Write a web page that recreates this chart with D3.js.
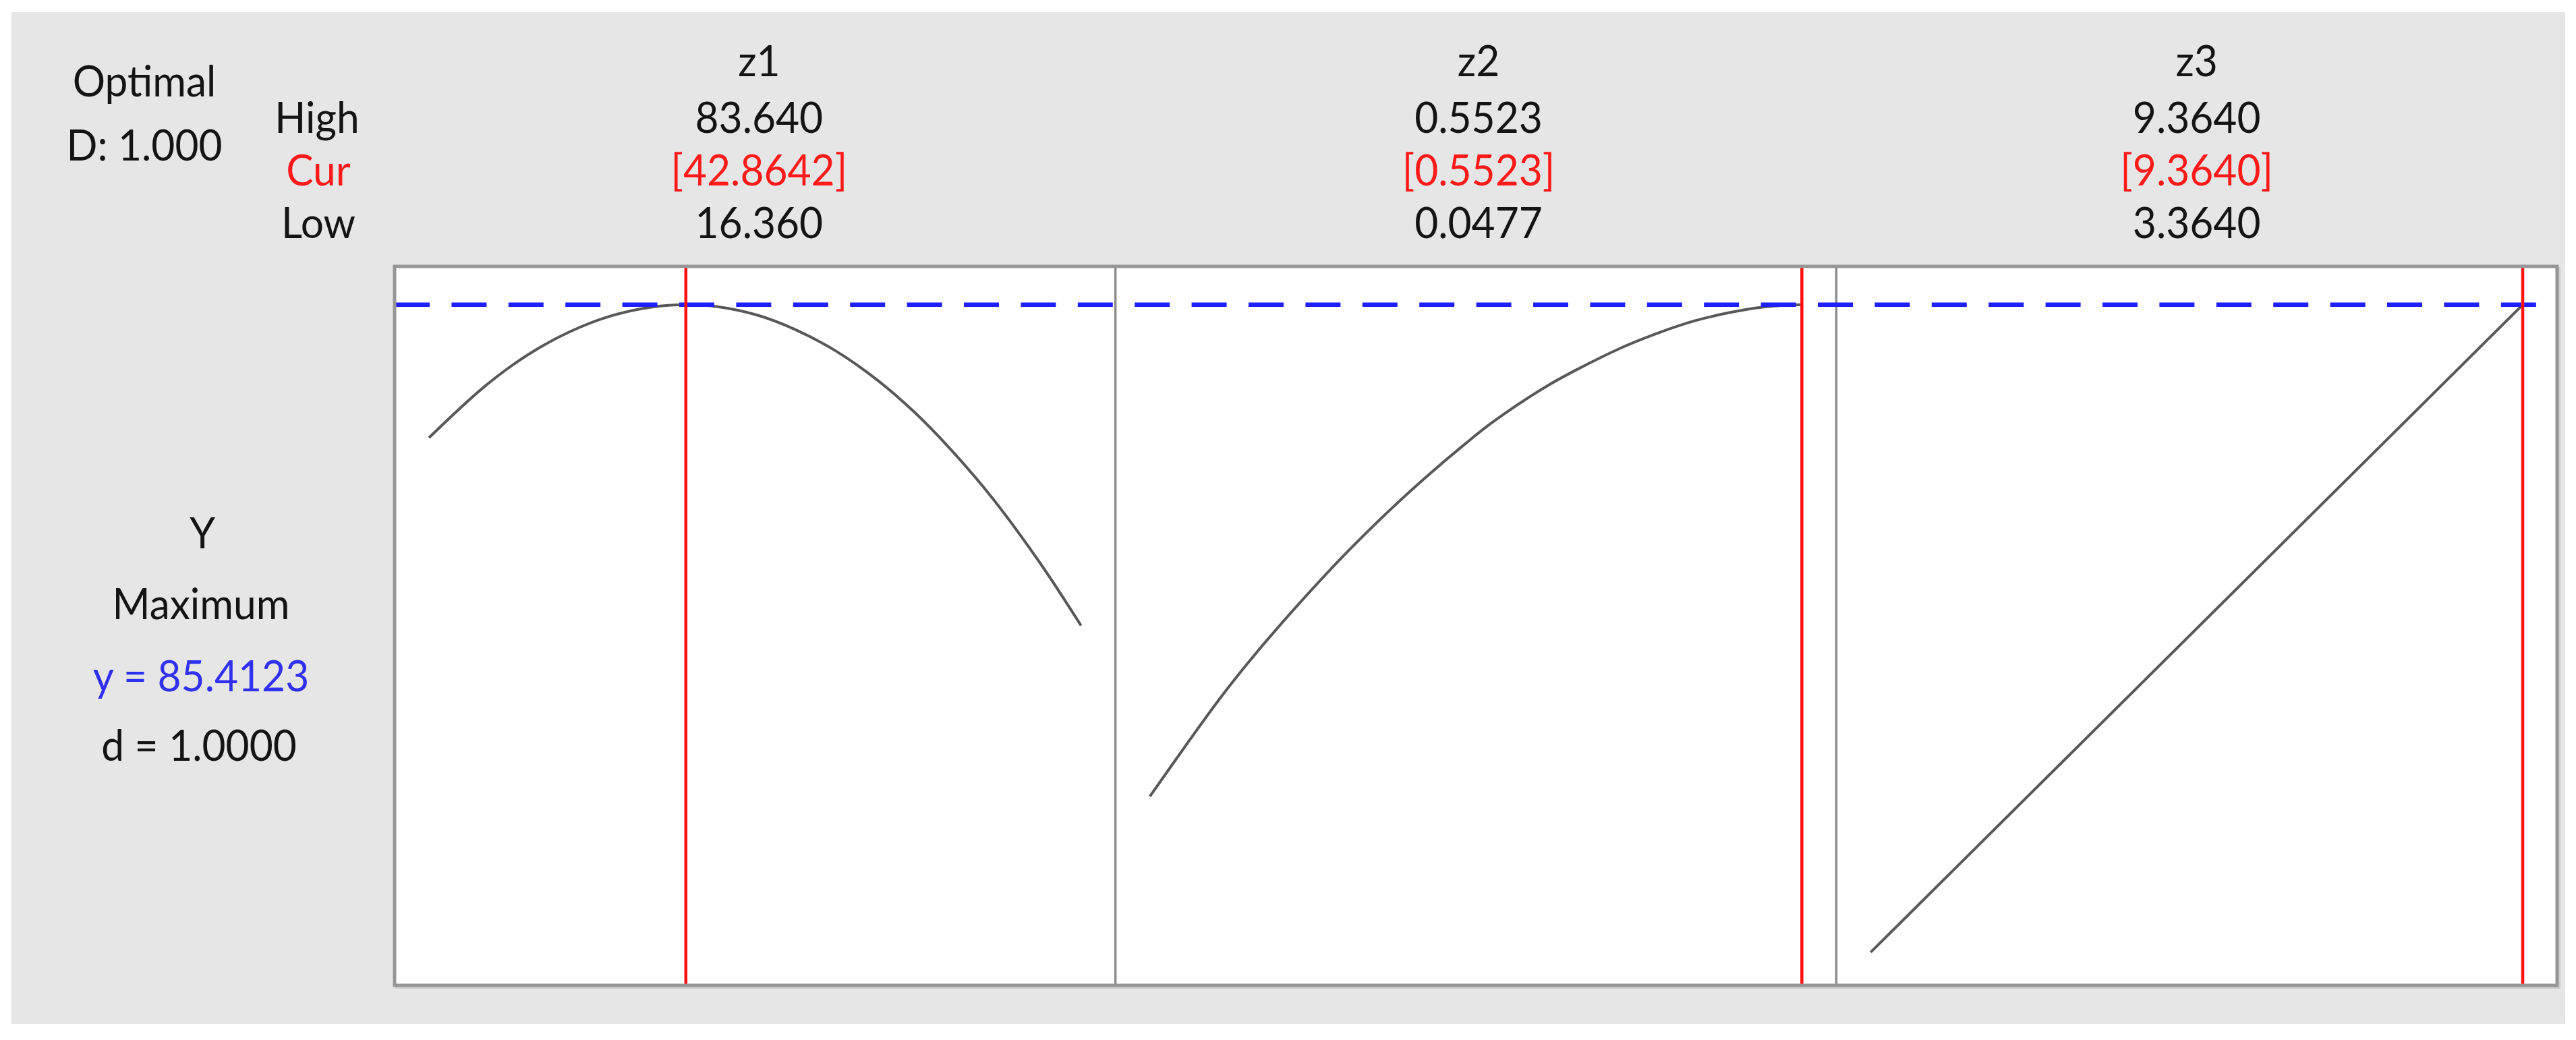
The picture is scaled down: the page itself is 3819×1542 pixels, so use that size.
<!DOCTYPE html>
<html>
<head>
<meta charset="utf-8">
<script src="https://cdn.jsdelivr.net/npm/d3@7"></script>
<style>
  html, body { margin: 0; padding: 0; background: #ffffff; }
  svg { display: block; }
  text { font-family: Lato, "Noto Sans", sans-serif; }
</style>
</head>
<body>
<svg id="chart" width="3819" height="1542"></svg>
<script>
// ---------------- DATA ----------------
const factors   = ["z1", "z2", "z3"];
const highLabels = ["83.640", "0.5523", "9.3640"];
const curLabels  = ["[42.8642]", "[0.5523]", "[9.3640]"];
const lowLabels  = ["16.360", "0.0477", "3.3640"];
const lowVals  = [16.36, 0.0477, 3.364];
const highVals = [83.64, 0.5523, 9.364];
const curVals  = [42.8642, 0.5523, 9.364];

const optimalD = "1.000";
const responseName = "Y";
const goal = "Maximum";
const optimalY = 85.4123;
const desirability = "1.0000";

// response curves (factor value, predicted response)
const z1X = [16.36, 22.07, 26.59, 30.83, 35.08, 39.39, 42.8642, 46.00, 50.31, 54.07, 58.31, 62.63, 66.50, 70.21, 74.46, 79.47, 83.64];
const z1Y = [75.56, 79.34, 81.72, 83.39, 84.57, 85.24, 85.4123, 85.28, 84.63, 83.60, 82.00, 79.83, 77.42, 74.68, 71.12, 66.22, 61.65];

const z2X = [0.0477, 0.0780, 0.1009, 0.1223, 0.1474, 0.1954, 0.2345, 0.2611, 0.2914, 0.3128, 0.3535, 0.3770, 0.4125, 0.4391, 0.4693, 0.4975, 0.5226, 0.5523];
const z2Y = [48.99, 53.10, 56.12, 58.73, 61.57, 66.60, 70.30, 72.62, 75.08, 76.70, 79.30, 80.55, 82.22, 83.25, 84.22, 84.85, 85.24, 85.4123];

const z3X = [3.364, 9.364];
const z3Y = [37.45, 85.4123];

const yDomain = [35, 88.25];

// ---------------- LAYOUT ----------------
const svg = d3.select("#chart");
const W = 3819, H = 1542;
const bg = { x0: 17, y0: 18, x1: 3803, y1: 1518 };
const plot = { x0: 585, y0: 395, x1: 3791, y1: 1461 };
const inner = 51;
const fs = 63, sx = 0.96;

svg.append("rect").attr("x", 0).attr("y", 0).attr("width", W).attr("height", H).attr("fill", "#ffffff");
svg.append("rect")
  .attr("x", bg.x0).attr("y", bg.y0)
  .attr("width", bg.x1 - bg.x0).attr("height", bg.y1 - bg.y0)
  .attr("fill", "#e6e6e6");

// plot area shadow + white field
svg.append("rect")
  .attr("x", plot.x0 + 3).attr("y", plot.y0 + 3)
  .attr("width", plot.x1 - plot.x0).attr("height", plot.y1 - plot.y0)
  .attr("fill", "none").attr("stroke", "#d0d0d0").attr("stroke-width", 4);
svg.append("rect")
  .attr("x", plot.x0).attr("y", plot.y0)
  .attr("width", plot.x1 - plot.x0).attr("height", plot.y1 - plot.y0)
  .attr("fill", "#ffffff");

const band = d3.scaleBand().domain(factors).range([plot.x0, plot.x1]).padding(0);
const y = d3.scaleLinear().domain(yDomain).range([plot.y1, plot.y0]);

const xScales = factors.map((f, i) =>
  d3.scaleLinear().domain([lowVals[i], highVals[i]])
    .range([band(f) + inner, band(f) + band.bandwidth() - inner]));

function addText(x, yy, str, color, anchor) {
  const g = svg.append("g").attr("transform", `translate(${x},${yy}) scale(${sx},1)`);
  g.append("text")
    .attr("x", 0).attr("y", 0)
    .attr("text-anchor", anchor || "middle")
    .attr("font-size", fs)
    .attr("fill", color || "#141414")
    .text(str);
}

// curves
const curves = [[z1X, z1Y], [z2X, z2Y], [z3X, z3Y]];
curves.forEach(([xs, ys], i) => {
  const pts = xs.map((v, k) => [v, ys[k]]);
  const line = d3.line()
    .x(d => xScales[i](d[0]))
    .y(d => y(d[1]))
    .curve(i === 2 ? d3.curveLinear : d3.curveCatmullRom.alpha(0.5));
  svg.append("path")
    .attr("d", line(pts))
    .attr("fill", "none")
    .attr("stroke", "#585858")
    .attr("stroke-width", 4);
});

// panel dividers
factors.slice(1).forEach(f => {
  svg.append("line")
    .attr("x1", band(f)).attr("x2", band(f))
    .attr("y1", plot.y0).attr("y2", plot.y1)
    .attr("stroke", "#8c8c8c").attr("stroke-width", 3.5);
});

// optimal response dashed line
svg.append("line")
  .attr("x1", plot.x0).attr("x2", plot.x1)
  .attr("y1", y(optimalY)).attr("y2", y(optimalY))
  .attr("stroke", "#2020ff").attr("stroke-width", 6.5)
  .attr("stroke-dasharray", "52,32.4");

// current settings (red)
factors.forEach((f, i) => {
  const xx = xScales[i](curVals[i]);
  svg.append("line")
    .attr("x1", xx).attr("x2", xx)
    .attr("y1", plot.y0).attr("y2", plot.y1)
    .attr("stroke", "#ff1010").attr("stroke-width", 4.5);
});

// plot border
svg.append("rect")
  .attr("x", plot.x0).attr("y", plot.y0)
  .attr("width", plot.x1 - plot.x0).attr("height", plot.y1 - plot.y0)
  .attr("fill", "none")
  .attr("stroke", "#969696").attr("stroke-width", 5);

// ---------------- TEXT ----------------
addText(214, 143, "Optimal");
addText(214, 238, "D: " + optimalD);
addText(470, 197, "High");
addText(472, 275, "Cur", "#ff1a1a");
addText(472, 353, "Low");

factors.forEach((f, i) => {
  const cx = band(f) + band.bandwidth() / 2 + (i === 0 ? 6 : i === 1 ? 4 : 0);
  addText(cx, 113, f);
  addText(cx, 197, highLabels[i]);
  addText(cx, 275, curLabels[i], "#ff1a1a");
  addText(cx, 353, lowLabels[i]);
});

addText(300, 813, responseName);
addText(298, 918, goal);
addText(298, 1025, "y = " + optimalY.toFixed(4), "#3030f0");
addText(295, 1128, "d = " + desirability);
</script>
</body>
</html>
